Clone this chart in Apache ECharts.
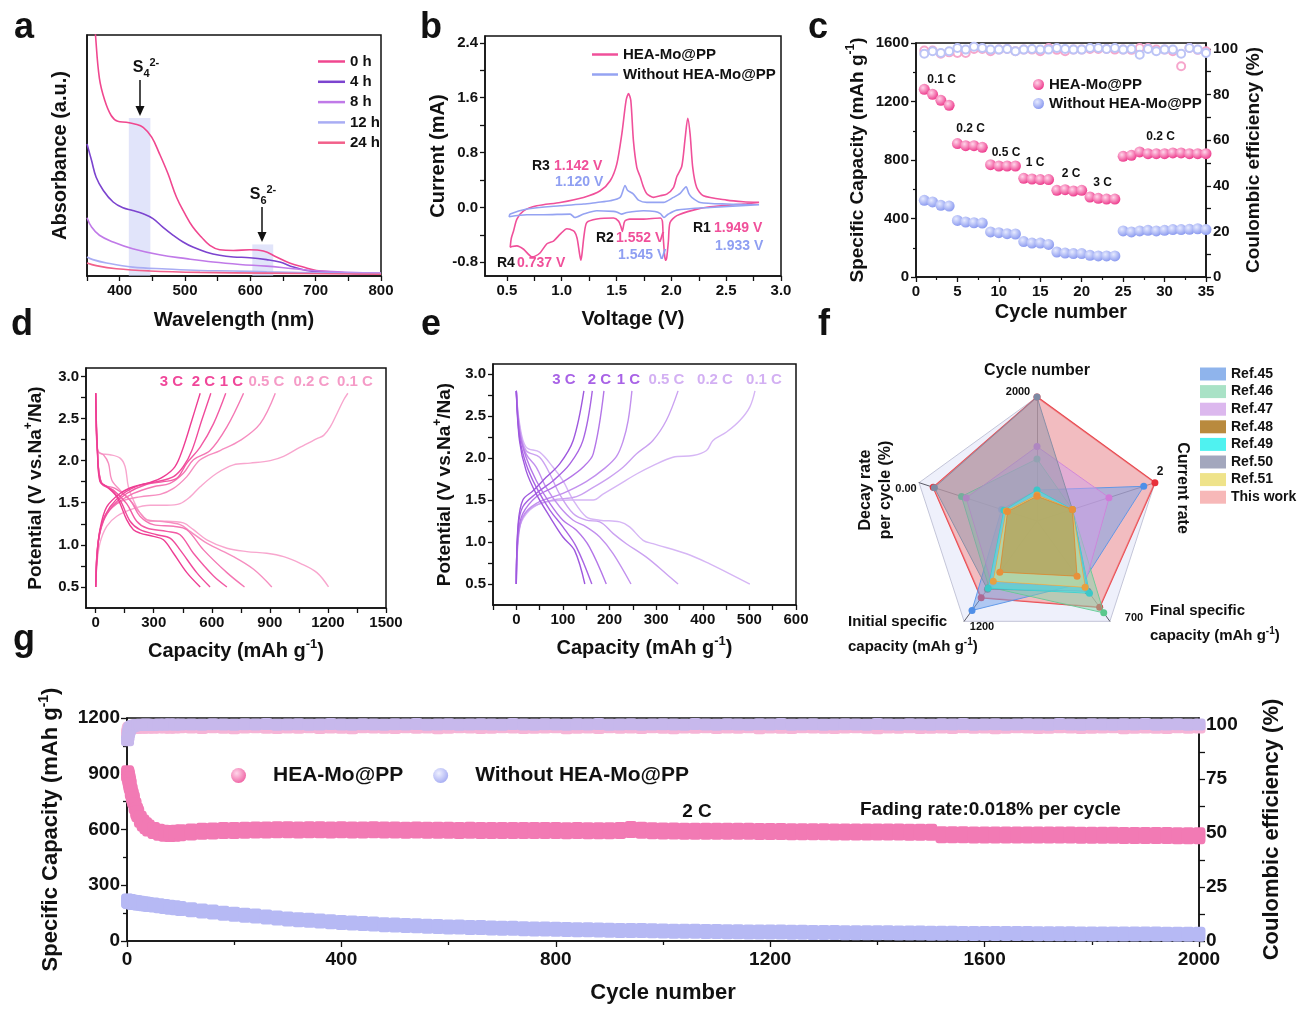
<!DOCTYPE html>
<html><head><meta charset="utf-8">
<script src="https://cdn.jsdelivr.net/npm/echarts@6/dist/echarts.min.js"></script>
<style>html,body{margin:0;padding:0;background:#fff}#c{width:1297px;height:1009px}</style>
</head><body><div id="c"></div>
<script>
// ---------- DATA ----------
// (a) UV-vis absorbance [wavelength nm, absorbance a.u.]
const a_0h=[[350,1.6],[356,1.25],[363,1.0],[369,0.82],[377,0.73],[387,0.666],[397,0.642],[410,0.638],[423,0.631],[436,0.617],[449,0.576],[461,0.507],[474,0.424],[487,0.327],[500,0.258],[512,0.203],[525,0.162],[538,0.127],[553,0.109],[574,0.106],[599,0.109],[620,0.104],[640,0.079],[660,0.054],[681,0.037],[701,0.023],[727,0.017],[752,0.012],[800,0.010]];
const a_4h=[[350,0.548],[357,0.479],[364,0.41],[375,0.355],[390,0.307],[405,0.283],[420,0.272],[436,0.258],[451,0.238],[466,0.203],[482,0.169],[497,0.141],[512,0.12],[533,0.099],[553,0.086],[574,0.079],[599,0.076],[625,0.068],[645,0.058],[666,0.037],[686,0.023],[706,0.017],[747,0.012],[800,0.010]];
const a_8h=[[350,0.242],[357,0.203],[369,0.169],[390,0.141],[420,0.113],[461,0.088],[502,0.072],[543,0.058],[584,0.048],[625,0.041],[666,0.030],[706,0.021],[800,0.012]];
const a_12h=[[350,0.079],[359,0.068],[380,0.054],[420,0.037],[472,0.029],[523,0.023],[574,0.021],[625,0.017],[727,0.012],[800,0.010]];
const a_24h=[[350,0.054],[364,0.043],[395,0.030],[446,0.021],[523,0.015],[625,0.012],[800,0.007]];
const a_bands=[[414,447,0.656],[603,635,0.131]];
// (b) CV [voltage V, current mA]
const b_hea=[[2.80,0.073],[2.657,0.049],[2.353,0.01],[2.20,-0.039],[2.05,-0.12],[1.988,-0.22],[1.973,-0.49],[1.958,-0.73],[1.949,-0.77],[1.940,-0.72],[1.925,-0.42],[1.918,-0.2],[1.90,-0.155],[1.745,-0.17],[1.62,-0.17],[1.575,-0.2],[1.56,-0.3],[1.552,-0.35],[1.54,-0.28],[1.518,-0.2],[1.472,-0.155],[1.32,-0.17],[1.229,-0.22],[1.205,-0.39],[1.183,-0.70],[1.174,-0.77],[1.160,-0.65],[1.14,-0.45],[1.115,-0.35],[1.077,-0.32],[1.047,-0.31],[0.986,-0.39],[0.925,-0.49],[0.865,-0.53],[0.804,-0.66],[0.758,-0.71],[0.728,-0.72],[0.652,-0.61],[0.591,-0.56],[0.546,-0.57],[0.53,-0.58],[0.54,-0.45],[0.561,-0.34],[0.591,-0.17],[0.652,-0.05],[0.773,0.024],[0.986,0.073],[1.199,0.146],[1.351,0.243],[1.442,0.389],[1.502,0.632],[1.548,1.07],[1.587,1.56],[1.609,1.66],[1.63,1.56],[1.654,0.97],[1.685,0.58],[1.715,0.45],[1.745,0.3],[1.776,0.2],[1.837,0.146],[1.897,0.17],[1.958,0.195],[2.019,0.29],[2.05,0.45],[2.095,0.6],[2.125,1.0],[2.149,1.30],[2.171,1.07],[2.195,0.58],[2.231,0.29],[2.292,0.17],[2.505,0.107],[2.657,0.083],[2.80,0.073]];
const b_without=[[2.8,0.039],[2.353,0],[2.05,-0.039],[1.97,-0.1],[1.933,-0.146],[1.90,-0.09],[1.85,-0.06],[1.745,-0.049],[1.594,-0.073],[1.545,-0.097],[1.50,-0.065],[1.472,-0.058],[1.32,-0.049],[1.199,-0.097],[1.12,-0.146],[1.077,-0.097],[0.834,-0.107],[0.682,-0.107],[0.52,-0.136],[0.53,-0.097],[0.682,-0.024],[0.986,0.024],[1.199,0.049],[1.32,0.073],[1.442,0.097],[1.533,0.146],[1.578,0.32],[1.60,0.25],[1.654,0.195],[1.70,0.107],[1.776,0.073],[1.928,0.073],[2.019,0.146],[2.08,0.204],[2.134,0.30],[2.16,0.20],[2.186,0.146],[2.262,0.073],[2.505,0.049],[2.8,0.039]];
// (c) rate capability
const c_cycles=[1,2,3,4,5,6,7,8,9,10,11,12,13,14,15,16,17,18,19,20,21,22,23,24,25,26,27,28,29,30,31,32,33,34,35];
const c_heaCap=[1283,1249,1208,1174,912,898,898,887,768,759,759,759,675,670,666,666,593,597,588,593,547,538,533,533,825,832,855,843,843,843,848,848,843,843,843];
const c_woCap=[524,513,490,485,387,376,371,369,308,303,296,294,242,232,232,223,171,164,160,160,148,144,144,144,315,308,315,319,315,319,324,324,326,330,324];
const c_heaCE=[99.3,99.3,97.9,98.5,98.2,98.2,100,100,99,99.7,100,99,99.7,99.7,99,100.4,99.6,99,99.7,99.7,100,100,100,99.7,99.7,99.6,100.4,100.4,99.7,99.7,99,92.4,100.4,99.6,99];
const c_woCE=[97.9,99,98.2,99,100.4,99.7,101,100.4,99.7,99.7,100,99,99.7,100,99.7,99.7,100.4,100,99.7,99.7,100.4,100.4,100,100.4,99.7,100,97.5,100,99,99.7,99.7,97.9,100.4,99.7,98.2];
// (d) HEA-Mo@PP charge/discharge [capacity, potential]
const d_dis_3=[[0,2.8],[9,2.12],[22,1.75],[57,1.69],[109,1.57],[160,1.30],[195,1.18],[229,1.14],[298,1.10],[350,1.06],[402,0.90],[471,0.67],[540,0.5]];
const d_chg_3=[[0,0.5],[9,0.90],[22,1.18],[57,1.45],[126,1.61],[195,1.69],[281,1.74],[350,1.81],[410,1.93],[453,2.16],[497,2.48],[540,2.80]];
const d_dis_2=[[0,2.8],[9,2.12],[26,1.75],[74,1.67],[126,1.53],[178,1.28],[229,1.18],[316,1.12],[384,1.08],[436,0.94],[522,0.67],[591,0.5]];
const d_chg_2=[[0,0.5],[9,0.94],[31,1.24],[74,1.45],[143,1.61],[229,1.71],[316,1.75],[402,1.81],[453,1.93],[497,2.12],[548,2.48],[595,2.80]];
const d_dis_1=[[0,2.8],[9,2.12],[31,1.73],[91,1.65],[160,1.49],[212,1.28],[264,1.20],[367,1.16],[436,1.12],[505,0.90],[609,0.63],[678,0.5]];
const d_chg_1=[[0,0.5],[10,0.98],[40,1.28],[91,1.47],[160,1.61],[264,1.72],[350,1.75],[419,1.79],[471,1.97],[540,2.16],[609,2.44],[672,2.80]];
const d_dis_05=[[0,2.8],[9,2.12],[31,1.73],[100,1.67],[178,1.53],[229,1.34],[298,1.24],[402,1.22],[471,1.18],[557,0.94],[678,0.67],[769,0.5]];
const d_chg_05=[[0,0.5],[14,1.06],[48,1.34],[109,1.49],[195,1.61],[298,1.69],[384,1.73],[453,1.85],[505,2.01],[591,2.12],[678,2.40],[764,2.80]];
const d_dis_02=[[0,2.8],[9,2.12],[40,2.07],[66,1.97],[83,1.77],[126,1.65],[178,1.53],[229,1.38],[264,1.30],[333,1.28],[436,1.24],[488,1.16],[574,1.02],[712,0.86],[816,0.71],[910,0.5]];
const d_chg_02=[[0,0.5],[17,1.10],[57,1.38],[126,1.51],[229,1.57],[333,1.60],[402,1.67],[471,1.81],[540,2.01],[643,2.12],[747,2.24],[850,2.44],[928,2.80]];
const d_dis_01=[[0,2.8],[5,2.24],[22,2.085],[74,2.07],[126,2.03],[152,1.93],[169,1.69],[195,1.53],[229,1.38],[281,1.28],[367,1.28],[453,1.26],[505,1.18],[574,1.06],[678,0.96],[781,0.92],[884,0.90],[971,0.86],[1057,0.78],[1143,0.67],[1203,0.5]];
const d_chg_01=[[0,0.5],[5,0.74],[22,1.02],[57,1.22],[109,1.34],[195,1.43],[281,1.47],[367,1.47],[436,1.49],[488,1.57],[540,1.69],[626,1.85],[712,1.95],[798,1.97],[902,2.00],[971,2.05],[1057,2.16],[1143,2.26],[1178,2.30],[1212,2.40],[1247,2.56],[1281,2.72],[1303,2.80]];
// (e) without HEA-Mo@PP
const e_dis_3=[[0,2.8],[7,2.2],[21,1.85],[43,1.57],[72,1.30],[100,1.06],[125,0.90],[147,0.5]];
const e_chg_3=[[0,0.5],[4,1.22],[14,1.50],[36,1.61],[64,1.77],[93,1.93],[122,2.21],[145,2.8]];
const e_dis_2=[[0,2.8],[7,2.25],[21,1.93],[43,1.65],[72,1.38],[100,1.18],[129,0.94],[162,0.5]];
const e_chg_2=[[0,0.5],[4,1.18],[14,1.42],[43,1.58],[79,1.73],[115,1.93],[143,2.21],[163,2.8]];
const e_dis_1=[[0,2.8],[7,2.3],[21,2.01],[43,1.73],[72,1.46],[100,1.26],[129,1.14],[157,0.94],[193,0.5]];
const e_chg_1=[[0,0.5],[4,1.10],[14,1.34],[43,1.54],[79,1.65],[115,1.77],[143,1.89],[165,2.05],[188,2.8]];
const e_dis_05=[[0,2.8],[7,2.33],[21,2.05],[43,1.89],[64,1.65],[93,1.42],[122,1.26],[150,1.18],[179,1.06],[208,0.86],[246,0.5]];
const e_chg_05=[[0,0.5],[4,1.02],[14,1.30],[43,1.46],[100,1.58],[150,1.72],[190,1.88],[215,2.02],[229,2.2],[240,2.45],[248,2.8]];
const e_dis_02=[[0,2.8],[7,2.37],[21,2.09],[50,2.01],[72,1.81],[93,1.57],[122,1.34],[150,1.26],[179,1.24],[208,1.10],[236,0.98],[279,0.82],[322,0.62],[347,0.5]];
const e_chg_02=[[0,0.5],[2,0.94],[11,1.26],[36,1.42],[79,1.50],[129,1.54],[165,1.65],[200,1.77],[229,1.89],[258,2.05],[293,2.21],[322,2.45],[347,2.8]];
const e_dis_01=[[0,2.8],[7,2.41],[21,2.13],[50,2.07],[79,1.89],[100,1.73],[122,1.50],[150,1.30],[179,1.26],[222,1.24],[243,1.18],[272,1.02],[293,0.98],[365,0.86],[415,0.74],[458,0.62],[501,0.5]];
const e_chg_01=[[0,0.5],[1,0.86],[7,1.18],[29,1.38],[64,1.48],[115,1.50],[165,1.50],[186,1.57],[222,1.69],[258,1.81],[293,1.91],[336,2.01],[379,2.03],[408,2.09],[422,2.21],[451,2.31],[480,2.45],[501,2.61],[512,2.8]];
const rateNames=['3 C','2 C','1 C','0.5 C','0.2 C','0.1 C'];
// (f) radar: [cycle number, decay score (outer = 0.00 %), initial cap, final cap, current rate]
const f_names=['Ref.45','Ref.46','Ref.47','Ref.48','Ref.49','Ref.50','Ref.51','This work'];
const f_ref45=[500,0.30,1070,434,1.81];
const f_ref46=[1000,0.64,790,641,0.6];
const f_ref47=[1200,0.60,744,455,1.22];
const f_ref48=[400,0.25,612,385,0.6];
const f_ref49=[500,0.28,804,504,0.6];
const f_ref50=[2000,0.87,816,490,0.6];
const f_ref51=[420,0.26,720,462,0.6];
const f_thisWork=[2000,0.88,919,602,2];
// (g) long cycling at 2 C
const g_cycles=[1,2,3,4,5,6,8,10,12,15,18,20,25,30,35,40,50,60,70,80,90,100,
120,140,160,180,200,220,240,260,280,300,320,340,360,380,400,420,440,460,480,500,
520,540,560,580,600,620,640,660,680,700,720,740,760,780,800,820,840,860,880,900,
920,940,960,980,1000,1020,1040,1060,1080,1100,1120,1140,1160,1180,1200,1220,1240,1260,1280,1300,
1320,1340,1360,1380,1400,1420,1440,1460,1480,1500,1520,1540,1560,1580,1600,1620,1640,1660,1680,1700,
1720,1740,1760,1780,1800,1820,1840,1860,1880,1900,1920,1940,1960,1980,2000];
const g_heaCap=[900,893,880,865,850,835,805,780,760,728,700,685,655,635,620,608,594,585,580,578,580,583,
587,590,592,594,595,596,597,597,598,598,597,598,598,597,598,597,597,598,597,597,
596,597,596,596,596,595,596,595,595,595,594,595,594,594,594,593,594,593,593,593,
594,600,596,593,592,592,591,591,591,590,590,590,590,589,589,589,588,588,588,588,
587,587,587,587,586,586,586,585,585,585,572,572,572,571,571,571,571,571,570,570,
570,570,570,569,569,569,569,568,568,568,568,568,567,567,567];
const g_woCap=[215,214,213,212,212,211,210,209,208,207,206,205,203,201,199,197,194,190,186,182,179,175,
168,162,156,150,144,139,134,129,124,119,115,111,107,103,100,97,94,91,88,86,
84,82,80,78,76,75,73,72,70,69,68,66,65,64,63,62,61,60,59,58,
57,56,56,55,54,53,53,52,51,51,50,50,49,49,48,48,47,47,46,46,
46,45,45,44,44,44,43,43,43,42,42,42,41,41,41,40,40,40,40,39,
39,39,39,38,38,38,38,37,37,37,37,36,36,36,36];
const g_heaCE=[96.0,97.2,98.0,98.4,98.6,98.7,98.8,98.9,99.0,99.1,99.0,99.2,99.1,99.0,99.2,99.1,99.0,99.2,99.1,99.0,99.1,99.2,
99.1,98.9,99.2,99.0,98.8,99.1,99.3,99.0,98.9,99.1,99.0,99.2,98.9,99.1,99.0,98.8,99.2,99.1,99.0,98.9,
99.2,99.0,99.1,98.8,99.0,99.3,99.1,98.9,99.0,99.2,99.1,98.9,99.0,99.1,99.2,98.8,99.0,99.1,98.9,99.2,
99.0,99.1,98.9,99.2,99.0,98.8,99.1,99.0,99.2,98.9,99.1,99.0,99.2,98.8,99.1,99.0,98.9,99.2,99.1,99.0,
98.9,99.1,99.2,99.0,98.8,99.1,99.0,99.2,98.9,99.0,99.1,98.9,99.2,99.0,99.1,98.8,99.0,99.2,99.1,98.9,
99.0,99.2,99.1,98.9,99.0,99.1,99.2,98.8,99.0,99.1,99.0,98.9,99.2,99.0,99.1];
const g_woCE=[93.0,95.0,96.5,97.5,98.2,98.8,99.2,99.5,99.7,99.8,100.0,100.1,100.2,100.1,100.3,100.2,100.1,100.3,100.2,100.4,100.2,100.3,
100.3,100.2,100.4,100.3,100.2,100.4,100.3,100.5,100.2,100.3,100.4,100.2,100.3,100.5,100.3,100.2,100.4,100.3,100.2,100.4,
100.3,100.5,100.2,100.3,100.4,100.2,100.3,100.4,100.3,100.2,100.5,100.3,100.2,100.4,100.3,100.2,100.4,100.3,100.5,100.2,
100.3,100.4,100.2,100.3,100.4,100.3,100.2,100.5,100.3,100.2,100.4,100.3,100.2,100.4,100.3,100.5,100.2,100.3,100.4,100.2,
100.3,100.4,100.3,100.2,100.5,100.3,100.2,100.4,100.3,100.2,100.4,100.3,100.5,100.2,100.3,100.4,100.2,100.3,100.4,100.3,
100.2,100.5,100.3,100.2,100.4,100.3,100.2,100.4,100.3,100.5,100.2,100.3,100.4,100.2,100.3];

// ---------- CHART ----------
const FONT='Arial, "Liberation Sans", Helvetica, sans-serif';
const INK='#111';
const chart=echarts.init(document.getElementById('c'),null,{renderer:'canvas'});
const zip=(xs,ys)=>xs.map((x,i)=>[x,ys[i]]);
const PINK='#f0509a', BLUE='#95a3f2';
function sphere(c1,c2){return {type:'radial',x:0.38,y:0.35,r:0.65,colorStops:[{offset:0,color:c1},{offset:1,color:c2}]};}
function ax(o){
  const base={axisLine:{show:true,onZero:false,lineStyle:{color:INK,width:1.5}},
    axisTick:{show:true,length:5,lineStyle:{color:INK,width:1.3}},
    axisLabel:{color:INK,fontWeight:'bold',fontSize:15,fontFamily:FONT,margin:7,formatter:v=>String(v)},
    splitLine:{show:false},nameLocation:'middle',
    nameTextStyle:{color:INK,fontWeight:'bold',fontSize:20,fontFamily:FONT}};
  const r=Object.assign({},base,o);
  if(o.axisLabel) r.axisLabel=Object.assign({},base.axisLabel,o.axisLabel);
  if(o.axisTick) r.axisTick=Object.assign({},base.axisTick,o.axisTick);
  if(o.nameTextStyle) r.nameTextStyle=Object.assign({},base.nameTextStyle,o.nameTextStyle);
  return r;
}
const gridBox={show:true,borderColor:INK,borderWidth:1.5,backgroundColor:'transparent',containLabel:false};
const supRich=(fs)=>({t:{fontSize:fs,fontWeight:'bold',fontFamily:FONT,color:INK,lineHeight:fs+6},s:{fontSize:Math.round(fs*0.65),fontWeight:'bold',fontFamily:FONT,color:INK,verticalAlign:'top',lineHeight:fs+6}});
const range=(a,b,s)=>{const r=[];for(let v=a;v<=b+1e-9;v+=s)r.push(+v.toFixed(4));return r;};

const series=[];
// (a)
const aCols=['#f0478f','#7c44cf','#c07ae8','#a9adf4','#f2608a'];
[['0 h',a_0h],['4 h',a_4h],['8 h',a_8h],['12 h',a_12h],['24 h',a_24h]].forEach((s,i)=>{
  const o={type:'line',name:s[0],xAxisIndex:0,yAxisIndex:0,data:s[1],symbol:'none',smooth:0.4,clip:true,
    lineStyle:{color:aCols[i],width:1.6},itemStyle:{color:aCols[i]},z:3};
  if(i===0){o.markArea={silent:true,itemStyle:{color:'rgba(200,205,245,0.55)'},
    data:a_bands.map(b=>[{xAxis:b[0],yAxis:0},{xAxis:b[1],yAxis:b[2]}])};}
  series.push(o);
});
// (b)
series.push({type:'line',name:'b::HEA-Mo@PP',xAxisIndex:1,yAxisIndex:1,data:b_hea,symbol:'none',smooth:0.25,lineStyle:{color:PINK,width:1.6},itemStyle:{color:PINK}});
series.push({type:'line',name:'b::Without HEA-Mo@PP',xAxisIndex:1,yAxisIndex:1,data:b_without,symbol:'none',smooth:0.25,lineStyle:{color:BLUE,width:1.6},itemStyle:{color:BLUE}});
// (c)
series.push({type:'scatter',name:'c::HEA-Mo@PP CE',xAxisIndex:2,yAxisIndex:3,data:zip(c_cycles,c_heaCE),symbol:'emptyCircle',symbolSize:8,itemStyle:{color:'#f6a6cc',borderWidth:1.2,opacity:1}});
series.push({type:'scatter',name:'c::Without CE',xAxisIndex:2,yAxisIndex:3,data:zip(c_cycles,c_woCE),symbol:'emptyCircle',symbolSize:8,itemStyle:{color:'#bcc4f6',borderWidth:1.2,opacity:1}});
series.push({type:'scatter',name:'c::HEA-Mo@PP',xAxisIndex:2,yAxisIndex:2,data:zip(c_cycles,c_heaCap),symbol:'circle',symbolSize:11,itemStyle:{color:sphere('#ffd6ea','#ee3f8f'),opacity:1}});
series.push({type:'scatter',name:'c::Without HEA-Mo@PP',xAxisIndex:2,yAxisIndex:2,data:zip(c_cycles,c_woCap),symbol:'circle',symbolSize:11,itemStyle:{color:sphere('#e6eaff','#8d9cf0'),opacity:1}});
// (d),(e)
const dCols=['#ee3d93','#f04a9b','#f25aa4','#f476b3','#f68ec0','#f8a6ce'];
const eCols=['#9e58de','#a864e3','#b476e8','#c290ee','#cba2f1','#d6b6f5'];
[[d_dis_3,d_chg_3],[d_dis_2,d_chg_2],[d_dis_1,d_chg_1],[d_dis_05,d_chg_05],[d_dis_02,d_chg_02],[d_dis_01,d_chg_01]].forEach((p,i)=>{
  p.forEach((d,k)=>series.push({type:'line',name:'d::'+rateNames[i]+k,xAxisIndex:3,yAxisIndex:4,data:d,symbol:'none',smooth:0.35,lineStyle:{color:dCols[i],width:1.4},z:10-i}));
});
[[e_dis_3,e_chg_3],[e_dis_2,e_chg_2],[e_dis_1,e_chg_1],[e_dis_05,e_chg_05],[e_dis_02,e_chg_02],[e_dis_01,e_chg_01]].forEach((p,i)=>{
  p.forEach((d,k)=>series.push({type:'line',name:'e::'+rateNames[i]+k,xAxisIndex:4,yAxisIndex:5,data:d,symbol:'none',smooth:0.35,lineStyle:{color:eCols[i],width:1.4},z:10-i}));
});
// (g) dense marker bands
series.push({type:'scatter',name:'g::HEA CE',xAxisIndex:5,yAxisIndex:7,data:zip(g_cycles,g_heaCE),symbol:'roundRect',symbolSize:[13,13],itemStyle:{color:'#f6b4d6',opacity:1},z:2});
series.push({type:'scatter',name:'g::Without CE',xAxisIndex:5,yAxisIndex:7,data:zip(g_cycles,g_woCE),symbol:'roundRect',symbolSize:[13,12],itemStyle:{color:'#c7b8ec',opacity:1},z:3});
series.push({type:'scatter',name:'g::Without HEA-Mo@PP',xAxisIndex:5,yAxisIndex:6,data:zip(g_cycles,g_woCap),symbol:'roundRect',symbolSize:[13,15],itemStyle:{color:'#b6b9f4',opacity:1},z:3});
series.push({type:'scatter',name:'g::HEA-Mo@PP',xAxisIndex:5,yAxisIndex:6,data:zip(g_cycles,g_heaCap),symbol:'roundRect',symbolSize:[13,17],itemStyle:{color:'#f27ab4',opacity:1},z:4});
// (f) radar
const fFill=['#6fa0ea','#7fd6aa','#cf9ee8','#b8862e','#3ff0ee','#8d93aa','#efe07a','#f59a9a'];
const fMark=['#4f8fe8','#5cc98d','#d07ad8','#e8903a','#3cc8c8','#7e8aa3','#e8a040','#e8303a'];
const fLeg=['#8fb4ec','#a9e2c6','#dcb8ee','#b98a3e','#4ff2f0','#a3a7bd','#efe38a','#f7b8b8'];
const fVals=[f_ref45,f_ref46,f_ref47,f_ref48,f_ref49,f_ref50,f_ref51,f_thisWork];
const fOrder=[7,0,1,2,5,4,6,3];
fOrder.forEach((i,k)=>{
  series.push({type:'radar',name:f_names[i],radarIndex:0,z:2+k,symbol:'circle',symbolSize:7,
    data:[{name:f_names[i],value:fVals[i]}],
    itemStyle:{color:fMark[i]},
    lineStyle:{color:i===7?'#e8333a':fMark[i],width:i===7?1.6:1,opacity:0.9},
    areaStyle:{color:fFill[i],opacity:i===7?0.6:0.5}});
});

const fmt=n=>n.indexOf('::')>=0?n.split('::')[1]:n;
const legTxt=(fs)=>({fontSize:fs,fontWeight:'bold',fontFamily:FONT,color:INK});

const texts=[];
function T(x,y,txt,o){o=o||{};texts.push({type:'text',x:x,y:y,rotation:o.rot||0,z:50,silent:true,
  style:{text:txt,fill:o.fill||INK,font:'bold '+(o.fs||14)+'px '+FONT,align:o.align||'left',verticalAlign:o.va||'middle',
    textAlign:o.align||'left',textVerticalAlign:o.va||'middle',rich:o.rich}});}
// panel letters
[['a',24,28],['b',431,28],['c',818,28],['d',22,325],['e',431,325],['f',824,325],['g',24,640]].forEach(p=>T(p[1],p[2],p[0],{fs:36,align:'center'}));
// (a) S4 2- / S6 2- labels and arrows
const sRich={m:{fontSize:16,fontWeight:'bold',fontFamily:FONT,color:INK,lineHeight:22},
  sb:{fontSize:11,fontWeight:'bold',fontFamily:FONT,color:INK,lineHeight:22,verticalAlign:'bottom'},
  sp:{fontSize:11,fontWeight:'bold',fontFamily:FONT,color:INK,lineHeight:22,verticalAlign:'top'}};
T(146,68,'{m|S}{sb|4}{sp|2-}',{align:'center',rich:sRich});
T(263,195,'{m|S}{sb|6}{sp|2-}',{align:'center',rich:sRich});
const arrows=[[140,80,114],[262,207,240]];
arrows.forEach(a=>{
  texts.push({type:'line',z:50,silent:true,shape:{x1:a[0],y1:a[1],x2:a[0],y2:a[2]-4},style:{stroke:INK,lineWidth:1.5}});
  texts.push({type:'polygon',z:50,silent:true,shape:{points:[[a[0]-4.5,a[2]-8],[a[0]+4.5,a[2]-8],[a[0],a[2]+2]]},style:{fill:INK}});
});
// (b) peak annotations
const PK='#f0509a', BL='#8f9ff2';
T(532,166,'R3',{});T(554,166,'1.142 V',{fill:PK});T(555,182,'1.120 V',{fill:BL});
T(497,263,'R4',{});T(517,263,'0.737 V',{fill:PK});
T(596,238,'R2',{});T(616,238,'1.552 V',{fill:PK});T(618,255,'1.545 V',{fill:BL});
T(693,228,'R1',{});T(714,228,'1.949 V',{fill:PK});T(715,246,'1.933 V',{fill:BL});
// (c) rate labels
[['0.1 C',941.7,80],['0.2 C',970.7,129],['0.5 C',1006,153],['1 C',1035,163],['2 C',1071,174],['3 C',1102.7,183],['0.2 C',1160.7,137]].forEach(p=>T(p[1],p[2],p[0],{fs:12,align:'center'}));
// (d),(e) rate labels
const dLab=[171.5,203.5,231.5,266.5,311.5,355], eLab=[564,599.5,628.5,666.5,715,764];
rateNames.forEach((n,i)=>{T(dLab[i],382,n,{fs:15,align:'center',fill:i<3?'#f0479a':'#f59bc7'});
  T(eLab[i],380,n,{fs:15,align:'center',fill:i<3?'#a862e6':'#d3b0f3'});});
// (f) radar labels
T(1037,371,'Cycle number',{fs:16,align:'center'});
T(1018,392,'2000',{fs:11,align:'center'});
T(1160,472,'2',{fs:12,align:'center'});
T(1134,618,'700',{fs:11,align:'center'});
T(982,627,'1200',{fs:11,align:'center'});
T(906,489,'0.00',{fs:11,align:'center'});
T(1182,488,'Current rate',{fs:16,align:'center',rot:-Math.PI/2});
T(866,490,'Decay rate',{fs:16,align:'center',rot:Math.PI/2});
T(886,490,'per cycle (%)',{fs:16,align:'center',rot:Math.PI/2});
const capRich={t:{fontSize:15,fontWeight:'bold',fontFamily:FONT,color:INK,lineHeight:20},s:{fontSize:10,fontWeight:'bold',fontFamily:FONT,color:INK,lineHeight:20,verticalAlign:'top'}};
T(1150,611,'Final specific',{fs:15});
T(1150,636,'{t|capacity (mAh g}{s|-1}{t|)}',{rich:capRich});
T(848,622,'Initial specific',{fs:15});
T(848,647,'{t|capacity (mAh g}{s|-1}{t|)}',{rich:capRich});
// (g) annotations
T(697,812,'2 C',{fs:19,align:'center'});
T(860,810,'Fading rate:0.018% per cycle',{fs:19});

const option={
  animation:false,
  textStyle:{fontFamily:FONT},
  grid:[
    Object.assign({left:87,top:35,width:294,height:241},gridBox),
    Object.assign({left:485,top:36,width:296,height:240},gridBox),
    Object.assign({left:916,top:43,width:290,height:234},gridBox),
    Object.assign({left:86,top:368,width:300,height:240},gridBox),
    Object.assign({left:493,top:364,width:303,height:241},gridBox),
    Object.assign({left:127,top:718,width:1072,height:223},gridBox)
  ],
  xAxis:[
    ax({gridIndex:0,type:'value',min:350,max:800,interval:50,axisLabel:{formatter:v=>v%100===0?String(v):''},name:'Wavelength (nm)',nameGap:34}),
    ax({gridIndex:1,type:'value',min:0.3,max:3.0,axisLabel:{customValues:range(0.5,3.0,0.5),formatter:v=>v.toFixed(1)},axisTick:{customValues:range(0.5,3.0,0.25)},name:'Voltage (V)',nameGap:33}),
    ax({gridIndex:2,type:'value',min:0,max:35,interval:5,minorTick:{show:true,splitNumber:2,length:3,lineStyle:{color:INK,width:1.2}},name:'Cycle number',nameGap:25}),
    ax({gridIndex:3,type:'value',min:-50,max:1500,axisLabel:{customValues:range(0,1500,300)},axisTick:{customValues:range(0,1500,150)},name:'{t|Capacity (mAh g}{s|-1}{t|)}',nameGap:30,nameTextStyle:{rich:supRich(20)}}),
    ax({gridIndex:4,type:'value',min:-50,max:600,interval:50,axisLabel:{formatter:v=>v%100===0&&v>=0?String(v):''},name:'{t|Capacity (mAh g}{s|-1}{t|)}',nameGap:30,nameTextStyle:{rich:supRich(20)}}),
    ax({gridIndex:5,type:'value',min:0,max:2000,interval:400,minorTick:{show:true,splitNumber:2,length:4,lineStyle:{color:INK,width:1.3}},axisLabel:{fontSize:19,margin:9},axisTick:{length:6},name:'Cycle number',nameGap:41,nameTextStyle:{fontSize:22}})
  ],
  yAxis:[
    ax({gridIndex:0,type:'value',min:0,max:1,axisLabel:{show:false},axisTick:{show:false},name:'Absorbance (a.u.)',nameGap:17}),
    ax({gridIndex:1,type:'value',min:-1.0,max:2.5,axisLabel:{customValues:[-0.8,0,0.8,1.6,2.4],formatter:v=>v.toFixed(1)},axisTick:{customValues:[-0.8,-0.4,0,0.4,0.8,1.2,1.6,2.0,2.4]},name:'Current (mA)',nameGap:36}),
    ax({gridIndex:2,type:'value',min:0,max:1600,interval:400,minorTick:{show:true,splitNumber:2,length:3,lineStyle:{color:INK,width:1.2}},name:'{t|Specific Capacity (mAh g}{s|-1}{t|)}',nameGap:46,nameTextStyle:{rich:supRich(19)}}),
    ax({gridIndex:2,type:'value',position:'right',min:0,max:102.6,axisLabel:{customValues:[0,20,40,60,80,100]},axisTick:{customValues:[0,10,20,30,40,50,60,70,80,90,100]},name:'Coulombic efficiency (%)',nameGap:38,nameRotate:90,nameTextStyle:{fontSize:19}}),
    ax({gridIndex:3,type:'value',min:0.25,max:3.1,axisLabel:{customValues:range(0.5,3.0,0.5),formatter:v=>v.toFixed(1)},axisTick:{customValues:range(0.5,3.0,0.25)},name:'{t|Potential (V vs.Na}{s|+}{t|/Na)}',nameGap:38,nameTextStyle:{rich:supRich(19)}}),
    ax({gridIndex:4,type:'value',min:0.25,max:3.12,axisLabel:{customValues:range(0.5,3.0,0.5),formatter:v=>v.toFixed(1)},axisTick:{customValues:range(0.5,3.0,0.25)},name:'{t|Potential (V vs.Na}{s|+}{t|/Na)}',nameGap:36,nameTextStyle:{rich:supRich(19)}}),
    ax({gridIndex:5,type:'value',min:0,max:1200,interval:300,minorTick:{show:true,splitNumber:2,length:4,lineStyle:{color:INK,width:1.3}},axisLabel:{fontSize:19},axisTick:{length:6},name:'{t|Specific Capacity (mAh g}{s|-1}{t|)}',nameGap:62,nameTextStyle:{rich:supRich(22)}}),
    ax({gridIndex:5,type:'value',position:'right',min:0,max:103.3,axisLabel:{fontSize:19,customValues:[0,25,50,75,100]},axisTick:{length:6,customValues:[0,12.5,25,37.5,50,62.5,75,87.5,100]},name:'Coulombic efficiency (%)',nameGap:62,nameRotate:90,nameTextStyle:{fontSize:22}})
  ],
  radar:{center:[1037,521],radius:124,startAngle:90,splitNumber:1,shape:'polygon',
    axisName:{show:false},
    indicator:[{name:'',min:0,max:2000},{name:'',min:0,max:1},{name:'',min:0,max:1200},{name:'',min:0,max:700},{name:'',min:0,max:2}],
    splitArea:{show:true,areaStyle:{color:['#eef0fb']}},
    splitLine:{lineStyle:{color:'#c3c5d8',width:1}},
    axisLine:{lineStyle:{color:'#5a5a66',width:1}}},
  legend:[
    {data:['0 h','4 h','8 h','12 h','24 h'],orient:'vertical',left:313,top:49,itemWidth:27,itemHeight:2.5,itemGap:5.3,icon:'rect',selectedMode:false,textStyle:Object.assign(legTxt(15),{lineHeight:15})},
    {data:['b::HEA-Mo@PP','b::Without HEA-Mo@PP'],formatter:fmt,orient:'vertical',left:587,top:42,itemWidth:26,itemHeight:2.5,itemGap:5,icon:'rect',selectedMode:false,textStyle:Object.assign(legTxt(15),{lineHeight:15})},
    {data:['c::HEA-Mo@PP','c::Without HEA-Mo@PP'],formatter:fmt,orient:'vertical',left:1028,top:72,itemWidth:11,itemHeight:11,itemGap:4,icon:'circle',selectedMode:false,textStyle:Object.assign(legTxt(15),{lineHeight:15})},
    {data:f_names.map((n,i)=>({name:n,itemStyle:{color:fLeg[i],borderWidth:0}})),orient:'vertical',left:1195,top:362,itemWidth:26,itemHeight:13,itemGap:3.6,icon:'rect',selectedMode:false,textStyle:Object.assign(legTxt(14),{lineHeight:14})},
    {data:[{name:'g::HEA-Mo@PP',itemStyle:{color:sphere('#ffd6ea','#f06aa8')}},{name:'g::Without HEA-Mo@PP',itemStyle:{color:sphere('#eef0ff','#aab0f3')}}],formatter:fmt,orient:'horizontal',left:226,top:760,itemWidth:15,itemHeight:15,itemGap:30,icon:'circle',selectedMode:false,textStyle:Object.assign(legTxt(21),{padding:[0,0,0,22]})}
  ],
  series:series,
  graphic:{elements:texts}
};
chart.setOption(option);
</script></body></html>
